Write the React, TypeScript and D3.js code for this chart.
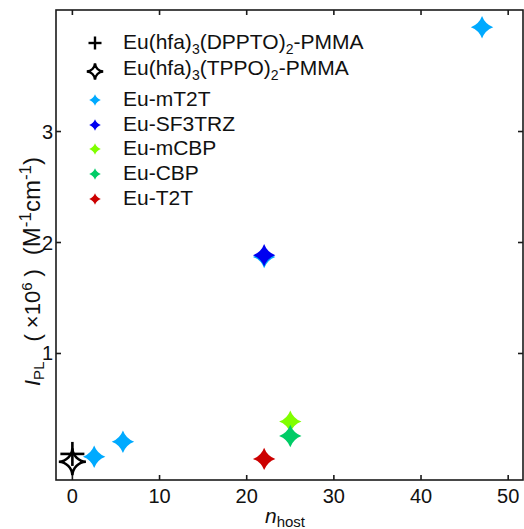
import React from "react";
import * as d3 from "d3";

const W = 524;
const H = 529;

const xTicks = [0, 10, 20, 30, 40, 50];
const yTicks = [1, 2, 3];

const dpptoX = [0];
const dpptoY = [0.095];
const tppoX = [0];
const tppoY = [0.025];
const mT2TX = [2.5, 5.8, 22, 47];
const mT2TY = [0.07, 0.205, 1.87, 3.94];
const sf3trzX = [22];
const sf3trzY = [1.885];
const mcbpX = [25];
const mcbpY = [0.386];
const cbpX = [25];
const cbpY = [0.257];
const t2tX = [22];
const t2tY = [0.05];

const colorMT2T = "#00aaff";
const colorSF3TRZ = "#0000f0";
const colorMCBP = "#80ff00";
const colorCBP = "#00cc66";
const colorT2T = "#cc0000";

const left = 56, right = 523, top = 10, bottom = 480;
const x = d3.scaleLinear().domain([-1.88, 51.7]).range([left, right]);
const y = d3.scaleLinear().domain([-0.14, 4.095]).range([bottom, top]);

// four-pointed star with circular concave sides
function starPath(r: number, rf = 1.2): string {
  const R = rf * r;
  return (
    `M0,${-r}` +
    `A${R},${R} 0 0 0 ${r},0` +
    `A${R},${R} 0 0 0 0,${r}` +
    `A${R},${R} 0 0 0 ${-r},0` +
    `A${R},${R} 0 0 0 0,${-r}Z`
  );
}

const FONT = "'Liberation Sans', Arial, sans-serif";

export default function App() {
  const bigStar = starPath(11.2, 1.7);
  const outlineStar = starPath(13.5, 1.05);
  const legendStar = starPath(5.8, 1.7);
  const legendOutline = starPath(8.2, 1.05);

  const colored: { xs: number[]; ys: number[]; color: string }[] = [
    { xs: t2tX, ys: t2tY, color: colorT2T },
    { xs: mT2TX, ys: mT2TY, color: colorMT2T },
    { xs: sf3trzX, ys: sf3trzY, color: colorSF3TRZ },
    { xs: mcbpX, ys: mcbpY, color: colorMCBP },
    { xs: cbpX, ys: cbpY, color: colorCBP },
  ];

  const legendX = 95;
  const textX = 123;
  const legendRows = [
    { label: "mT2T", color: colorMT2T, my: 100, ty: 106 },
    { label: "SF3TRZ", color: colorSF3TRZ, my: 125, ty: 131 },
    { label: "mCBP", color: colorMCBP, my: 149, ty: 155 },
    { label: "CBP", color: colorCBP, my: 174, ty: 180 },
    { label: "T2T", color: colorT2T, my: 199, ty: 205 },
  ];

  return (
    <svg width={W} height={H} style={{ position: "absolute", left: 0, top: 0, background: "#fff" }} fontFamily={FONT}>
      <rect x={0} y={0} width={W} height={H} fill="#fff" />
      {/* frame */}
      <rect x={left} y={top} width={right - left} height={bottom - top} fill="none" stroke="#1a1a1a" strokeWidth={1.6} />
      {/* ticks */}
      {xTicks.map((t) => (
        <g key={"xt" + t}>
          <line x1={x(t)} x2={x(t)} y1={bottom} y2={bottom - 5} stroke="#1a1a1a" strokeWidth={1.6} />
          <line x1={x(t)} x2={x(t)} y1={top} y2={top + 5} stroke="#1a1a1a" strokeWidth={1.6} />
          <text x={x(t)} y={503} fontSize={20} textAnchor="middle" fill="#111">{t}</text>
        </g>
      ))}
      {yTicks.map((t) => (
        <g key={"yt" + t}>
          <line x1={left} x2={left + 5} y1={y(t)} y2={y(t)} stroke="#1a1a1a" strokeWidth={1.6} />
          <line x1={right} x2={right - 5} y1={y(t)} y2={y(t)} stroke="#1a1a1a" strokeWidth={1.6} />
          <text x={53} y={y(t) + 7} fontSize={20} textAnchor="end" fill="#111">{t}</text>
        </g>
      ))}

      {/* data */}
      {colored.map((s, si) =>
        s.xs.map((xv, i) => (
          <path key={si + "-" + i} d={bigStar} transform={`translate(${x(xv)},${y(s.ys[i])})`} fill={s.color} />
        ))
      )}
      {tppoX.map((xv, i) => (
        <path key={"tp" + i} d={outlineStar} transform={`translate(${x(xv)},${y(tppoY[i])})`} fill="none" stroke="#000" strokeWidth={2.6} />
      ))}
      {dpptoX.map((xv, i) => (
        <g key={"dp" + i} transform={`translate(${x(xv)},${y(dpptoY[i])})`} stroke="#000" strokeWidth={2.6}>
          <line x1={-12} x2={12} y1={0} y2={0} />
          <line x1={0} x2={0} y1={-12} y2={12} />
        </g>
      ))}

      {/* legend */}
      <g transform={`translate(${legendX},43)`} stroke="#000" strokeWidth={2.4}>
        <line x1={-6.5} x2={6.5} y1={0} y2={0} />
        <line x1={0} x2={0} y1={-6.5} y2={6.5} />
      </g>
      <text x={textX} y={49} fontSize={21} fill="#111">
        Eu(hfa)<tspan fontSize={14} dy={5}>3</tspan><tspan dy={-5}>(DPPTO)</tspan><tspan fontSize={14} dy={5}>2</tspan><tspan dy={-5}>-PMMA</tspan>
      </text>
      <path d={legendOutline} transform={`translate(${legendX},71.5)`} fill="none" stroke="#000" strokeWidth={2.4} />
      <text x={textX} y={75} fontSize={21} fill="#111">
        Eu(hfa)<tspan fontSize={14} dy={5}>3</tspan><tspan dy={-5}>(TPPO)</tspan><tspan fontSize={14} dy={5}>2</tspan><tspan dy={-5}>-PMMA</tspan>
      </text>
      {legendRows.map((r) => (
        <g key={r.label}>
          <path d={legendStar} transform={`translate(${legendX},${r.my})`} fill={r.color} />
          <text x={textX} y={r.ty} fontSize={21} fill="#111">Eu-{r.label}</text>
        </g>
      ))}

      {/* x label */}
      <text x={265} y={523} fontSize={21} fill="#111">
        <tspan fontStyle="italic">n</tspan><tspan fontSize={15} dy={4}>host</tspan>
      </text>

      {/* y label */}
      <text transform="translate(40,386) rotate(-90)" fontSize={22} fill="#111">
        <tspan fontStyle="italic">I</tspan>
        <tspan fontSize={15} dy={4}>PL</tspan>
        <tspan dx={20} dy={-4}>(</tspan>
        <tspan dx={6}>×10</tspan>
        <tspan fontSize={15} dy={-8}>6</tspan>
        <tspan dx={6} dy={8}>)</tspan>
        <tspan dx={14} fontSize={24}>(M</tspan>
        <tspan fontSize={17} dy={-9}>-1</tspan>
        <tspan dy={9} fontSize={24}>cm</tspan>
        <tspan fontSize={17} dy={-9}>-1</tspan>
        <tspan dy={9} fontSize={24}>)</tspan>
      </text>
    </svg>
  );
}
